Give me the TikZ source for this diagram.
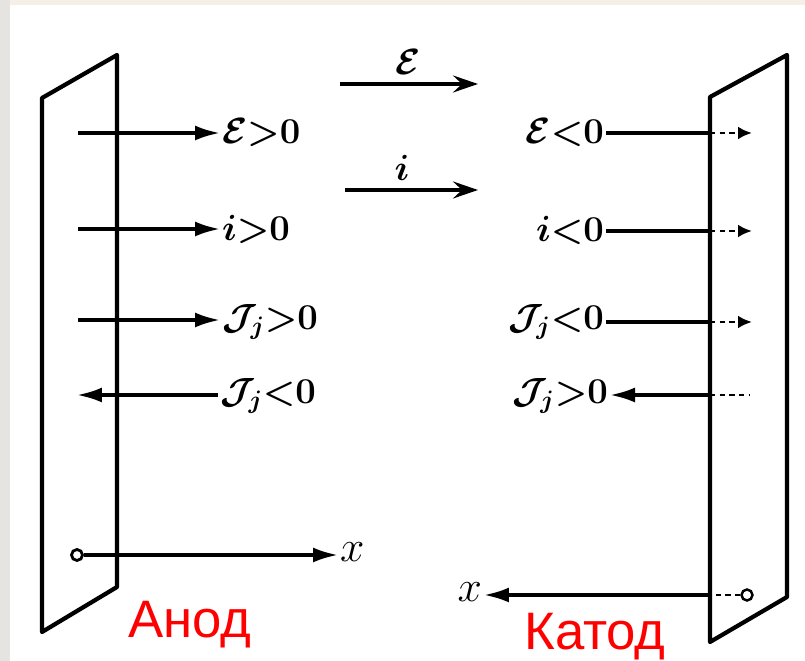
\documentclass[tikz,border=0pt]{standalone}
\usepackage{fontspec}
\usetikzlibrary{arrows.meta}
\newfontfamily\nomfont{Liberation Sans}
\definecolor{bordgris}{RGB}{230,228,224}
\definecolor{bordcreme}{RGB}{244,240,232}
\tikzset{
  plaque/.style={line width=2.4pt, line join=round},
  fleche/.style={line width=1.9pt, -{Latex[length=5mm,width=3mm]}},
  trait/.style={line width=1.9pt},
  pointille/.style={line width=1.6pt, dash pattern=on 3pt off 2.5pt},
  grandeur/.style={inner sep=1pt, font=\fontsize{22}{26}\selectfont\boldmath},
  axe/.style={inner sep=1pt, font=\fontsize{30}{34}\selectfont},
  nom/.style={text=red, inner sep=0pt, font=\nomfont\fontsize{30}{36}\selectfont}
}
\begin{document}
\begin{tikzpicture}[x=0.02cm, y=-0.02cm, >=latex]
  \useasboundingbox (0,0) rectangle (805,661);
  % cadre
  \fill[white] (0,0) rectangle (805,661);
  \fill[bordcreme] (0,0) rectangle (805,5);
  \fill[bordgris] (0,0) rectangle (10,661);

  % plaques (anode et cathode)
  \draw[plaque] (42,98) -- (117,55) -- (117,587) -- (42,632) -- cycle;
  \draw[plaque] (710,97) -- (787,55) -- (787,597) -- (710,642) -- cycle;

  % sens positif
  \node[grandeur] (Eh) at (408,62) {$\mathcal{E}$};
  \coordinate (Eh1) at (340,84);
  \coordinate (Eh2) at (478,84);
  \draw[line width=1.9pt, -{Stealth[length=5mm,width=3.4mm,inset=1.8mm]}] (Eh1) -- (Eh2);
  \node[grandeur] (ih) at (402,168) {$i$};
  \coordinate (ih1) at (345,190);
  \coordinate (ih2) at (478,190);
  \draw[line width=1.9pt, -{Stealth[length=5mm,width=3.4mm,inset=1.8mm]}] (ih1) -- (ih2);

  % anode
  \node[grandeur, anchor=west] (Ea) at (220,133) {$\mathcal{E}{>}0$};
  \node[grandeur, anchor=west] (ia) at (220,229) {$i{>}0$};
  \node[grandeur, anchor=west] (Jpa) at (220,322) {$\mathcal{J}_j{>}0$};
  \node[grandeur, anchor=west] (Jna) at (218,396) {$\mathcal{J}_j{<}0$};
  \coordinate (Ea0) at (78,133);
  \coordinate (ia0) at (78,229);
  \coordinate (Jpa0) at (78,320);
  \coordinate (Jna0) at (77,395);
  \draw[fleche] (Ea0) -- (Ea.west |- Ea0);
  \draw[fleche] (ia0) -- (ia.west |- ia0);
  \draw[fleche] (Jpa0) -- (Jpa.west |- Jpa0);
  \draw[fleche] (Jna.west |- Jna0) -- (Jna0);

  % axe x (anode)
  \node[draw, circle, line width=1.6pt, minimum size=0.22cm, inner sep=0pt] (Oa) at (77,555) {};
  \node[axe, anchor=west] (xa) at (338,552) {$x$};
  \draw[fleche] (Oa) -- (xa.west |- Oa);

  % cathode
  \node[grandeur, anchor=east] (Ec) at (606,133) {$\mathcal{E}{<}0$};
  \node[grandeur, anchor=east] (ic) at (606,230) {$i{<}0$};
  \node[grandeur, anchor=east] (Jnc) at (606,322) {$\mathcal{J}_j{<}0$};
  \node[grandeur, anchor=east] (Jpc) at (610,396) {$\mathcal{J}_j{>}0$};
  \coordinate (Ec1) at (710,133);
  \coordinate (Ec2) at (752,133);
  \coordinate (ic1) at (710,231);
  \coordinate (ic2) at (752,231);
  \coordinate (Jnc1) at (710,322);
  \coordinate (Jnc2) at (752,322);
  \coordinate (Jpc1) at (710,395);
  \coordinate (Jpc2) at (750,395);
  \draw[trait] (Ec.east |- Ec1) -- (Ec1);
  \draw[pointille, -{Latex[length=2.8mm,width=2.6mm]}] (Ec1) -- (Ec2);
  \draw[trait] (ic.east |- ic1) -- (ic1);
  \draw[pointille, -{Latex[length=2.8mm,width=2.6mm]}] (ic1) -- (ic2);
  \draw[trait] (Jnc.east |- Jnc1) -- (Jnc1);
  \draw[pointille, -{Latex[length=2.8mm,width=2.6mm]}] (Jnc1) -- (Jnc2);
  \draw[fleche] (Jpc1) -- (Jpc.east |- Jpc1);
  \draw[pointille] (Jpc1) -- (Jpc2);

  % axe x (cathode)
  \node[draw, circle, line width=1.4pt, minimum size=0.22cm, inner sep=0pt] (Oc) at (747,595) {};
  \coordinate (Oc1) at (710,595);
  \node[axe, anchor=east] (xc) at (484,592) {$x$};
  \draw[pointille] (Oc) -- (Oc1);
  \draw[fleche] (Oc1) -- (xc.east |- Oc1);

  % noms des électrodes
  \node[nom, anchor=base] (anode) at (190,638) {Анод};
  \node[nom, anchor=base] (cathode) at (595,650) {Катод};
\end{tikzpicture}
\end{document}
